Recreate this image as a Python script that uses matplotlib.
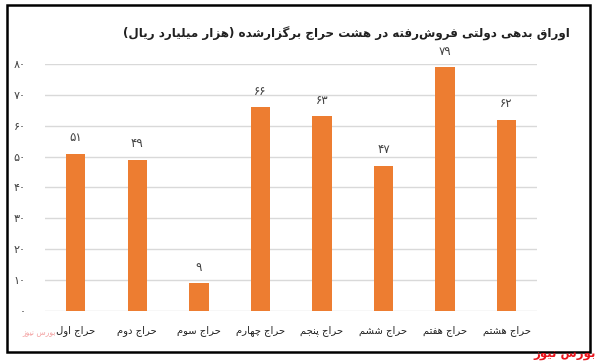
import matplotlib
matplotlib.use('Agg')
import matplotlib.pyplot as plt
from matplotlib.patches import Rectangle

# Data
categories = ['حراج اول', 'حراج دوم', 'حراج سوم', 'حراج چهارم',
              'حراج پنجم', 'حراج ششم', 'حراج هفتم', 'حراج هشتم']
values = [51, 49, 9, 66, 63, 47, 79, 62]
yticks = [0, 10, 20, 30, 40, 50, 60, 70, 80]
title = 'اوراق بدهی دولتی فروش\u200cرفته در هشت حراج برگزارشده (هزار میلیارد ریال)'
watermark = 'بورس نیوز'

# Simple Arabic/Persian shaping (isolated, final, initial, medial)
DUAL = {
    'ب': (0xFE8F, 0xFE90, 0xFE91, 0xFE92), 'پ': (0xFB56, 0xFB57, 0xFB58, 0xFB59),
    'ت': (0xFE95, 0xFE96, 0xFE97, 0xFE98), 'ث': (0xFE99, 0xFE9A, 0xFE9B, 0xFE9C),
    'ج': (0xFE9D, 0xFE9E, 0xFE9F, 0xFEA0), 'چ': (0xFB7A, 0xFB7B, 0xFB7C, 0xFB7D),
    'ح': (0xFEA1, 0xFEA2, 0xFEA3, 0xFEA4), 'خ': (0xFEA5, 0xFEA6, 0xFEA7, 0xFEA8),
    'س': (0xFEB1, 0xFEB2, 0xFEB3, 0xFEB4), 'ش': (0xFEB5, 0xFEB6, 0xFEB7, 0xFEB8),
    'ص': (0xFEB9, 0xFEBA, 0xFEBB, 0xFEBC), 'ض': (0xFEBD, 0xFEBE, 0xFEBF, 0xFEC0),
    'ط': (0xFEC1, 0xFEC2, 0xFEC3, 0xFEC4), 'ظ': (0xFEC5, 0xFEC6, 0xFEC7, 0xFEC8),
    'ع': (0xFEC9, 0xFECA, 0xFECB, 0xFECC), 'غ': (0xFECD, 0xFECE, 0xFECF, 0xFED0),
    'ف': (0xFED1, 0xFED2, 0xFED3, 0xFED4), 'ق': (0xFED5, 0xFED6, 0xFED7, 0xFED8),
    'ک': (0xFB8E, 0xFB8F, 0xFB90, 0xFB91), 'گ': (0xFB92, 0xFB93, 0xFB94, 0xFB95),
    'ل': (0xFEDD, 0xFEDE, 0xFEDF, 0xFEE0), 'م': (0xFEE1, 0xFEE2, 0xFEE3, 0xFEE4),
    'ن': (0xFEE5, 0xFEE6, 0xFEE7, 0xFEE8), 'ه': (0xFEE9, 0xFEEA, 0xFEEB, 0xFEEC),
    'ی': (0xFBFC, 0xFBFD, 0xFBFE, 0xFBFF),
}
RIGHT = {
    'ا': (0xFE8D, 0xFE8E), 'د': (0xFEA9, 0xFEAA), 'ذ': (0xFEAB, 0xFEAC),
    'ر': (0xFEAD, 0xFEAE), 'ز': (0xFEAF, 0xFEB0), 'ژ': (0xFB8A, 0xFB8B),
    'و': (0xFEED, 0xFEEE),
}
MIRROR = {'(': ')', ')': '('}


def shape(text):
    out = []
    n = len(text)
    for i, c in enumerate(text):
        if c not in DUAL and c not in RIGHT:
            if c != '\u200c':
                out.append(MIRROR.get(c, c))
            continue
        prev = text[i - 1] if i > 0 else ''
        nxt = text[i + 1] if i < n - 1 else ''
        join_prev = prev in DUAL
        join_next = c in DUAL and (nxt in DUAL or nxt in RIGHT)
        if c in RIGHT:
            f = RIGHT[c][1] if join_prev else RIGHT[c][0]
        else:
            forms = DUAL[c]
            if join_prev and join_next:
                f = forms[3]
            elif join_prev:
                f = forms[1]
            elif join_next:
                f = forms[2]
            else:
                f = forms[0]
        out.append(chr(f))
    return ''.join(reversed(out))


def fa_num(v):
    return str(v).translate(str.maketrans('0123456789', '۰۱۲۳۴۵۶۷۸۹'))


plt.rcParams['font.family'] = ['DejaVu Sans']

fig = plt.figure(figsize=(5.96, 3.63), dpi=100)
ax = fig.add_axes([0.0755, 0.1433, 0.826, 0.6804])

x = range(len(categories))
bars = ax.bar(x, values, width=0.315, color='#ED7D31', zorder=3)
for xi, v in zip(x, values):
    ax.text(xi, v + 5.2, fa_num(v), ha='center', va='center', fontsize=8.5,
            color='#404040', clip_on=False)

ax.set_xlim(-0.5, len(categories) - 0.5)
ax.set_ylim(0, 80)
ax.set_yticks(yticks)
ax.set_yticklabels([fa_num(t) for t in yticks], fontsize=8, color='#404040')
ax.set_xticks(list(x))
ax.set_xticklabels([shape(c) for c in categories], fontsize=7.2, color='#202020')
ax.tick_params(axis='y', length=0, pad=14)
ax.tick_params(axis='x', length=0, pad=10)
ax.grid(axis='y', color='#d9d9d9', linewidth=1, zorder=0)
for s in ax.spines.values():
    s.set_visible(False)

fig.text(0.582, 0.908, shape(title), ha='center', va='center',
         fontsize=8.6, fontweight='bold', color='#202020')

# Frame around the chart
fig.patches.append(Rectangle((0.012, 0.03), 0.978, 0.955, transform=fig.transFigure,
                             fill=False, edgecolor='black', linewidth=1.8))

# Watermarks
fig.text(0.999, 0.016, shape(watermark), ha='right', va='baseline',
         fontsize=8.5, fontweight='bold', color='#e8141c', zorder=5)
fig.text(0.065, 0.085, shape(watermark), ha='center', va='center',
         fontsize=5.5, color='#f08a8a', alpha=0.8)

fig.savefig('out.png', dpi=100)
